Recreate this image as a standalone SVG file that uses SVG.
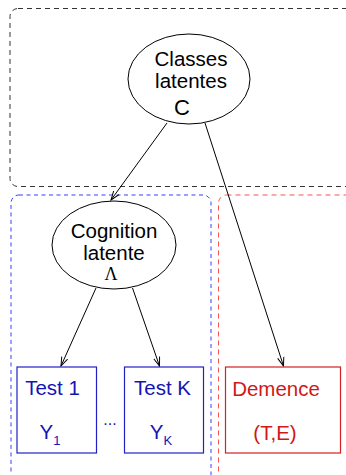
<svg xmlns="http://www.w3.org/2000/svg" width="346" height="475" viewBox="0 0 346 475">
<style>
text{font-family:"Liberation Sans",Arial,sans-serif;font-size:20.5px;text-anchor:middle}
.k{fill:#000}
.b{fill:#1414b4}
.r{fill:#d01818}
.e{fill:none;stroke:#000;stroke-width:1}
.c{fill:none;stroke:#000;stroke-width:1}
.bb{fill:none;stroke:#2020c8;stroke-width:1.2}
.rb{fill:none;stroke:#d42020;stroke-width:1.2}
</style>
<defs>
<marker id="ah" markerWidth="10" markerHeight="8" refX="9" refY="4" orient="auto" markerUnits="userSpaceOnUse">
<path d="M0,0.8 L9,4 L0,7.2" fill="none" stroke="#000" stroke-width="1"/>
</marker>
</defs>
<g id="groups">
<rect id="group-classes" x="10" y="8.5" width="345" height="178" rx="8" fill="none" stroke="#333" stroke-width="1" stroke-dasharray="5,4"/>
<rect id="group-cognition" x="11" y="195" width="200" height="300" rx="8" fill="none" stroke="#3c3cff" stroke-width="1" stroke-dasharray="4,3.5"/>
<rect id="group-demence" x="218.5" y="195" width="140" height="300" rx="8" fill="none" stroke="#ff5050" stroke-width="1" stroke-dasharray="5,4"/>
</g>
<g id="connectors">
<line class="c" x1="167" y1="123" x2="111" y2="200" marker-end="url(#ah)"/>
<line class="c" x1="205" y1="123" x2="283.5" y2="366" marker-end="url(#ah)"/>
<line class="c" x1="96" y1="288" x2="61" y2="366" marker-end="url(#ah)"/>
<line class="c" x1="132.5" y1="288" x2="159.5" y2="366" marker-end="url(#ah)"/>
</g>
<g id="classes">
<ellipse class="e" cx="189" cy="79" rx="61" ry="45"/>
<text class="k" x="191" y="66">Classes</text>
<text class="k" x="191" y="88">latentes</text>
<text class="k" x="182" y="115" style="font-size:22px">C</text>
</g>
<g id="cognition">
<ellipse class="e" cx="114" cy="245" rx="62" ry="44"/>
<text class="k" x="114" y="238">Cognition</text>
<text class="k" x="114" y="260">latente</text>
<text class="k" x="111" y="280" style="font-family:'Liberation Serif','Times New Roman',serif;font-size:18px">Λ</text>
</g>
<g id="test1">
<rect class="bb" x="17" y="367" width="79.5" height="86"/>
<text class="b" x="52.5" y="395">Test 1</text>
<text class="b" x="50" y="439">Y<tspan font-size="13" dy="6">1</tspan></text>
</g>
<text class="b" x="110" y="425" style="font-size:16px">...</text>
<g id="testk">
<rect class="bb" x="124.5" y="367" width="79" height="86"/>
<text class="b" x="162.5" y="395">Test K</text>
<text class="b" x="161" y="439">Y<tspan font-size="13" dy="6">K</tspan></text>
</g>
<g id="demence">
<rect class="rb" x="225.5" y="367" width="115" height="86"/>
<text class="r" x="276" y="396">Demence</text>
<text class="r" x="275" y="440">(T,E)</text>
</g>
</svg>
